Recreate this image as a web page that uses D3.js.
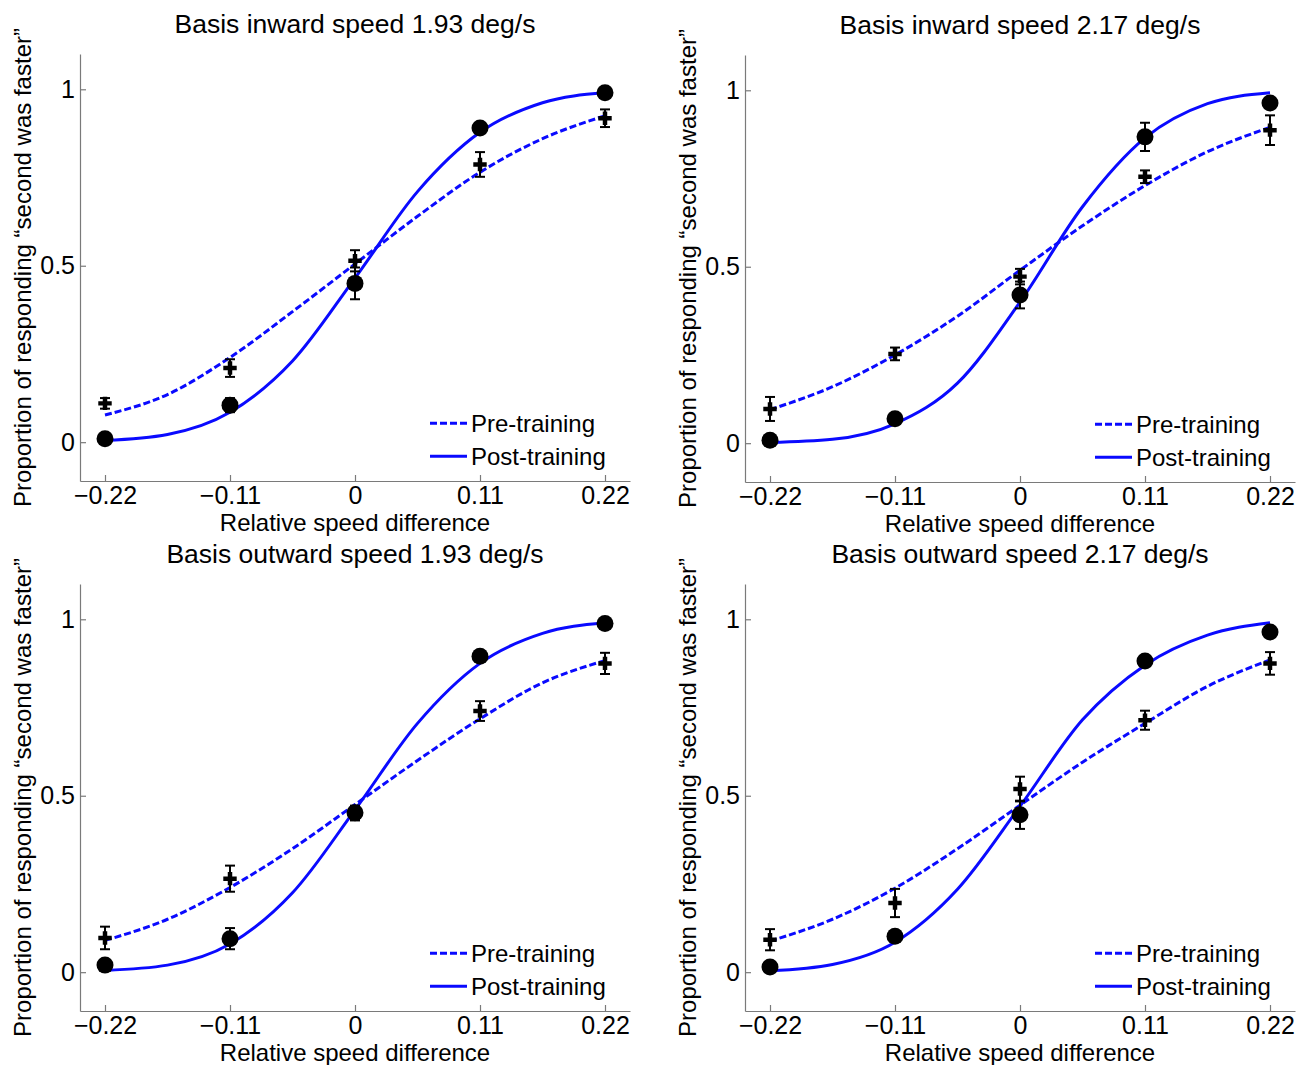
<!DOCTYPE html>
<html><head><meta charset="utf-8">
<script src="https://cdn.jsdelivr.net/npm/d3@7"></script>
<style>
body{margin:0;background:#fff;}
text{font-family:"Liberation Sans",Arial,Helvetica,sans-serif;fill:#000;}
</style></head>
<body><svg id="chart" width="1296" height="1065"></svg>
<script>
// ---------- data ----------
const titles = ["Basis inward speed 1.93 deg/s","Basis inward speed 2.17 deg/s","Basis outward speed 1.93 deg/s","Basis outward speed 2.17 deg/s"];
const xValues = [-0.22,-0.11,0,0.11,0.22];
const xTickLabels = ["\u22120.22","\u22120.11","0","0.11","0.22"];
const yTicks = [0,0.5,1];
const yTickLabels = ["0","0.5","1"];
const seriesNames = ["Pre-training","Post-training"];

// Pre-training (plus markers) means and error half-widths
const preMean1 = [0.11,0.21,0.514,0.787,0.918];
const preErr1  = [0.015,0.025,0.03,0.035,0.025];
const preMean2 = [0.097,0.253,0.472,0.755,0.887];
const preErr2  = [0.034,0.018,0.022,0.018,0.042];
const preMean3 = [0.097,0.265,0.45,0.74,0.875];
const preErr3  = [0.032,0.037,0.02,0.028,0.03];
const preMean4 = [0.092,0.196,0.519,0.714,0.875];
const preErr4  = [0.03,0.04,0.035,0.027,0.032];

// Post-training (circles)
const postMean1 = [0.01,0.105,0.45,0.89,0.99];
const postErr1  = [0.005,0.02,0.045,0.01,0.005];
const postMean2 = [0.008,0.069,0.42,0.868,0.964];
const postErr2  = [0.005,0.015,0.038,0.04,0.005];
const postMean3 = [0.02,0.095,0.452,0.895,0.988];
const postErr3  = [0.005,0.03,0.02,0.01,0.005];
const postMean4 = [0.015,0.102,0.446,0.882,0.964];
const postErr4  = [0.005,0.01,0.04,0.01,0.005];

// fitted curves
const curveX = [-0.22,-0.165,-0.11,-0.055,0,0.055,0.11,0.165,0.22];
const preCurve1  = [0.077,0.135,0.24,0.37,0.505,0.64,0.765,0.86,0.925];
const postCurve1 = [0.005,0.022,0.085,0.23,0.465,0.71,0.878,0.962,0.99];
const preCurve2  = [0.095,0.16,0.25,0.36,0.49,0.616,0.73,0.826,0.895];
const postCurve2 = [0.002,0.011,0.055,0.17,0.40,0.67,0.865,0.962,0.993];
const preCurve3  = [0.09,0.15,0.24,0.35,0.475,0.60,0.718,0.82,0.883];
const postCurve3 = [0.005,0.02,0.08,0.225,0.46,0.705,0.875,0.96,0.99];
const preCurve4  = [0.088,0.15,0.238,0.35,0.473,0.595,0.705,0.81,0.885];
const postCurve4 = [0.004,0.022,0.085,0.235,0.47,0.715,0.87,0.955,0.99];

const panels = [
  {title:titles[0], pre:preMean1, preE:preErr1, post:postMean1, postE:postErr1, preC:preCurve1, postC:postCurve1},
  {title:titles[1], pre:preMean2, preE:preErr2, post:postMean2, postE:postErr2, preC:preCurve2, postC:postCurve2},
  {title:titles[2], pre:preMean3, preE:preErr3, post:postMean3, postE:postErr3, preC:preCurve3, postC:postCurve3},
  {title:titles[3], pre:preMean4, preE:preErr4, post:postMean4, postE:postErr4, preC:preCurve4, postC:postCurve4}
];

// ---------- layout ----------
const svg = d3.select("#chart");
const blue = "#0a0aff";
const axisColor = "#7a7a7a";
const fs = 24;
const layouts = [
  {x0:80, x1:630, yb:481, yt:54},
  {x0:745, x1:1295, yb:482, yt:55},
  {x0:80, x1:630, yb:1011, yt:584},
  {x0:745, x1:1295, yb:1011, yt:584}
];

panels.forEach((p,i)=>{
  const L = layouts[i];
  const x = d3.scaleLinear().domain([-0.242,0.242]).range([L.x0,L.x1]);
  const y = d3.scaleLinear().domain([-0.11,1.1]).range([L.yb,L.yt]);
  const g = svg.append("g");

  // axes
  const xAxis = d3.axisBottom(x).tickValues(xValues).tickFormat((d,k)=>xTickLabels[k]).tickSizeInner(-6).tickSizeOuter(0).tickPadding(5);
  const gx = g.append("g").attr("transform",`translate(0,${L.yb})`).call(xAxis);
  const yAxis = d3.axisLeft(y).tickValues(yTicks).tickFormat((d,k)=>yTickLabels[k]).tickSizeInner(-6).tickSizeOuter(0).tickPadding(5);
  const gy = g.append("g").attr("transform",`translate(${L.x0},0)`).call(yAxis);
  [gx,gy].forEach(a=>{
    a.select(".domain").attr("stroke",axisColor).attr("stroke-width",1.2);
    a.selectAll(".tick line").attr("stroke",axisColor).attr("stroke-width",1.2);
    a.selectAll(".tick text").attr("font-size",25).attr("font-family","Liberation Sans, Arial, sans-serif").attr("fill","#000");
  });

  // titles & labels
  const cx = x(0);
  g.append("text").attr("x",cx).attr("y",L.yt-21).attr("text-anchor","middle").attr("font-size",26.5).text(p.title);
  g.append("text").attr("x",cx).attr("y",L.yb+50).attr("text-anchor","middle").attr("font-size",fs).text("Relative speed difference");
  g.append("text").attr("transform",`translate(${L.x0-49},${(L.yt+L.yb)/2}) rotate(-90)`).attr("text-anchor","middle").attr("font-size",fs)
    .text("Proportion of responding \u201csecond was faster\u201d");

  // curves
  const line = d3.line().x(d=>x(d[0])).y(d=>y(d[1])).curve(d3.curveMonotoneX);
  g.append("path").attr("d",line(curveX.map((v,k)=>[v,p.preC[k]]))).attr("fill","none").attr("stroke",blue).attr("stroke-width",3).attr("stroke-dasharray","7,3");
  g.append("path").attr("d",line(curveX.map((v,k)=>[v,p.postC[k]]))).attr("fill","none").attr("stroke",blue).attr("stroke-width",3);

  // error bars
  const drawErr = (means, errs)=>{
    xValues.forEach((v,k)=>{
      const xx = x(v), yl = y(means[k]-errs[k]), yh = y(means[k]+errs[k]);
      g.append("line").attr("x1",xx).attr("x2",xx).attr("y1",yl).attr("y2",yh).attr("stroke","#000").attr("stroke-width",2);
      [yl,yh].forEach(yy=>g.append("line").attr("x1",xx-5).attr("x2",xx+5).attr("y1",yy).attr("y2",yy).attr("stroke","#000").attr("stroke-width",2));
    });
  };
  drawErr(p.pre,p.preE);
  drawErr(p.post,p.postE);

  // markers
  const cross = d3.symbol().type(d3.symbolCross).size(100);
  xValues.forEach((v,k)=>{
    g.append("path").attr("d",cross()).attr("transform",`translate(${x(v)},${y(p.pre[k])})`).attr("fill","#000");
  });
  xValues.forEach((v,k)=>{
    g.append("circle").attr("cx",x(v)).attr("cy",y(p.post[k])).attr("r",8.5).attr("fill","#000");
  });

  // legend
  const y0 = y(0);
  const lx = L.x0+350;
  g.append("line").attr("x1",lx).attr("x2",lx+37).attr("y1",y0-19).attr("y2",y0-19).attr("stroke",blue).attr("stroke-width",3).attr("stroke-dasharray","7,3");
  g.append("text").attr("x",lx+41).attr("y",y0-19+9).attr("font-size",fs).text(seriesNames[0]);
  g.append("line").attr("x1",lx).attr("x2",lx+37).attr("y1",y0+14).attr("y2",y0+14).attr("stroke",blue).attr("stroke-width",3);
  g.append("text").attr("x",lx+41).attr("y",y0+14+9).attr("font-size",fs).text(seriesNames[1]);
});
</script></body></html>
